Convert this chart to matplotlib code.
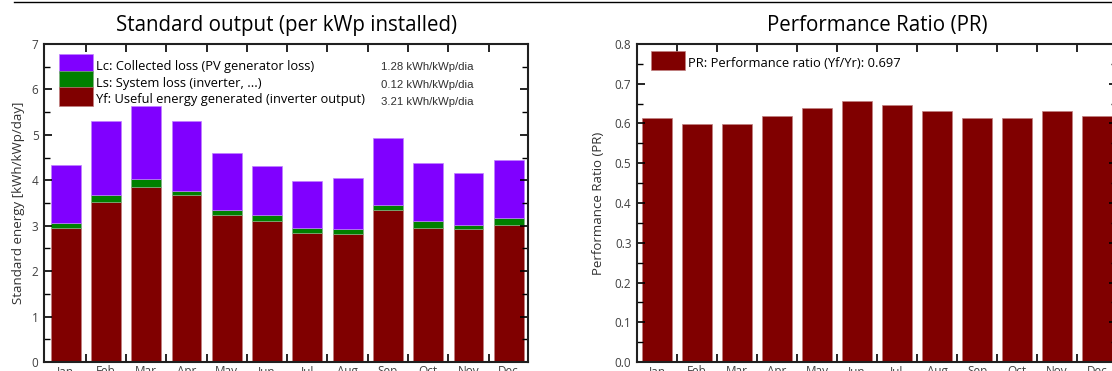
import numpy as np
import matplotlib
matplotlib.use("Agg")
import matplotlib.pyplot as plt
from matplotlib.patches import Patch, Rectangle
from matplotlib.lines import Line2D
from matplotlib.legend_handler import HandlerPatch

months = ["Jan", "Feb", "Mar", "Apr", "May", "Jun", "Jul", "Aug", "Sep", "Oct", "Nov", "Dec"]

# Standard output (kWh/kWp/day)
yf = [2.96, 3.53, 3.85, 3.67, 3.24, 3.10, 2.85, 2.82, 3.35, 2.96, 2.93, 3.02]
ls = [0.10, 0.14, 0.17, 0.10, 0.11, 0.14, 0.11, 0.10, 0.10, 0.14, 0.09, 0.15]
lc = [1.28, 1.64, 1.61, 1.54, 1.24, 1.07, 1.03, 1.14, 1.47, 1.28, 1.15, 1.28]

legend_labels = ["Lc: Collected loss (PV generator loss)",
                 "Ls: System loss (inverter, ...)",
                 "Yf: Useful energy generated (inverter output)"]
legend_values = ["1.28 kWh/kWp/dia", "0.12 kWh/kWp/dia", "3.21 kWh/kWp/dia"]

# Performance ratio per month
pr = [0.614, 0.598, 0.598, 0.618, 0.639, 0.656, 0.647, 0.631, 0.614, 0.614, 0.631, 0.618]
pr_label = "PR: Performance ratio (Yf/Yr): 0.697"

c_lc = "#8000ff"
c_ls = "#008000"
c_yf = "#800000"
font = ["Open Sans", "DejaVu Sans"]
tick_color = "#404040"
row_gap = 0.16

plt.rcParams["font.family"] = font


def full_box(legend, orig_handle, xdescent, ydescent, width, height, fontsize):
    # swatch fills the whole row (and the gap above) so the legend boxes touch
    return Rectangle((-xdescent, -ydescent), width, height + ydescent + row_gap * fontsize)


fig = plt.figure(figsize=(11.12, 3.71), dpi=100)
ax1 = fig.add_axes([44 / 1112, 9 / 371, 484 / 1112, 318 / 371])
ax2 = fig.add_axes([637 / 1112, 9 / 371, 480 / 1112, 318 / 371])

x = np.arange(len(months))
w = 0.74

# left chart: stacked bars
ax1.bar(x, yf, w, color=c_yf, edgecolor="#c08080", linewidth=0.5)
ax1.bar(x, ls, w, bottom=yf, color=c_ls, edgecolor="#80b080", linewidth=0.5)
ax1.bar(x, lc, w, bottom=np.array(yf) + np.array(ls), color=c_lc, edgecolor="#c080ff", linewidth=0.5)
ax1.set_xlim(-0.54, 11.48)
ax1.set_ylim(0, 7)
ax1.set_yticks(range(0, 8))
ax1.set_yticks(np.arange(0.5, 7, 1), minor=True)
ax1.set_ylabel("Standard energy [kWh/kWp/day]", fontsize=9.5, color="#303030", labelpad=5)
ax1.set_title("Standard output (per kWp installed)", fontsize=14.8, pad=9)

hmap = {Patch: HandlerPatch(patch_func=full_box)}
handles = [Patch(facecolor=c_lc, edgecolor="#c080ff", linewidth=0.5),
           Patch(facecolor=c_ls, edgecolor="#80b080", linewidth=0.5),
           Patch(facecolor=c_yf, edgecolor="#c08080", linewidth=0.5)]
ax1.legend(handles, legend_labels, loc="upper left", bbox_to_anchor=(0.031, 0.953),
           frameon=False, fontsize=9.3, borderpad=0, borderaxespad=0, handler_map=hmap,
           handlelength=2.6, handleheight=1.3, labelspacing=row_gap, handletextpad=0.3)
for txt, yy in zip(legend_values, [0.928, 0.872, 0.818]):
    ax1.text(0.888, yy, txt, transform=ax1.transAxes, ha="right", va="center",
             fontsize=8.2, color="#303030", family=["Liberation Sans", "DejaVu Sans"])

# right chart: PR
ax2.bar(x, pr, w, color=c_yf, edgecolor="#c08080", linewidth=0.5)
ax2.set_xlim(-0.5, 11.5)
ax2.set_ylim(0, 0.8)
ax2.set_yticks(np.arange(0, 0.81, 0.1))
ax2.set_yticks(np.arange(0.05, 0.8, 0.1), minor=True)
ax2.yaxis.set_major_formatter(matplotlib.ticker.FormatStrFormatter("%.1f"))
ax2.set_ylabel("Performance Ratio (PR)", fontsize=9.5, color="#303030", labelpad=7)
ax2.set_title("Performance Ratio (PR)", fontsize=14.8, pad=9)
ax2.legend([Patch(facecolor=c_yf, edgecolor="#c08080", linewidth=0.5)], [pr_label],
           loc="upper left", bbox_to_anchor=(0.029, 0.964), frameon=False, fontsize=9.3,
           borderpad=0, borderaxespad=0, handler_map=hmap, handlelength=2.6,
           handleheight=1.3, handletextpad=0.25)

for ax in (ax1, ax2):
    ax.set_xticks(np.arange(0.5, 11, 1))
    ax.set_xticks(x, minor=True)
    ax.set_xticklabels([])
    ax.set_xticklabels(months, minor=True)
    ax.tick_params(axis="x", which="major", direction="in", length=6, width=1.2,
                   top=True, bottom=True)
    ax.tick_params(axis="x", which="minor", length=0, pad=2, labelsize=8.5, labelcolor=tick_color)
    ax.tick_params(axis="y", which="major", direction="in", length=6, width=1.2,
                   left=True, right=True, labelsize=8.5, labelcolor=tick_color, pad=4)
    ax.tick_params(axis="y", which="minor", direction="in", length=4, width=1.0,
                   left=True, right=True)
    for s in ax.spines.values():
        s.set_linewidth(1.5)
        s.set_color("#202020")

# thin line across the top of the picture
fig.add_artist(Line2D([14 / 1112, 1.0], [1 - 2 / 371, 1 - 2 / 371], color="black", linewidth=1))

fig.savefig("out.png", dpi=100)
